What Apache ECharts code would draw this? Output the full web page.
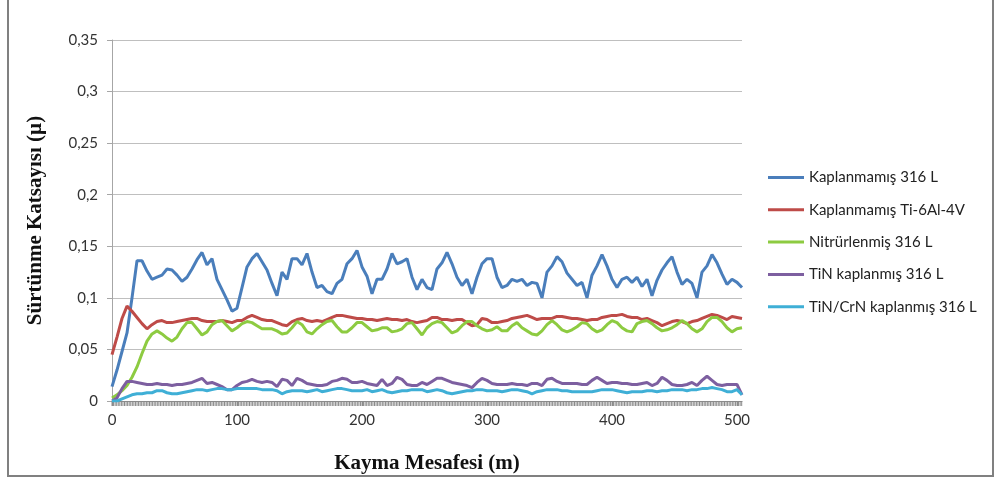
<!DOCTYPE html>
<html>
<head>
<meta charset="utf-8">
<script src="https://cdn.jsdelivr.net/npm/echarts@6/dist/echarts.min.js"></script>
<style>
html,body{margin:0;padding:0;background:#fff;}
#c{width:995px;height:479px;}
</style>
</head>
<body>
<div id="c"></div>
<script>
// Sliding distance (m)
const distance = [
  0,4,8,12,16,20,24,28,32,36,
  40,44,48,52,56,60,64,68,72,76,
  80,84,88,92,96,100,104,108,112,116,
  120,124,128,132,136,140,144,148,152,156,
  160,164,168,172,176,180,184,188,192,196,
  200,204,208,212,216,220,224,228,232,236,
  240,244,248,252,256,260,264,268,272,276,
  280,284,288,292,296,300,304,308,312,316,
  320,324,328,332,336,340,344,348,352,356,
  360,364,368,372,376,380,384,388,392,396,
  400,404,408,412,416,420,424,428,432,436,
  440,444,448,452,456,460,464,468,472,476,
  480,484,488,492,496,500,504
];

const seriesNames = [
  'Kaplanmamış 316 L',
  'Kaplanmamış Ti-6Al-4V',
  'Nitrürlenmiş 316 L',
  'TiN kaplanmış 316 L',
  'TiN/CrN kaplanmış 316 L'
];

const uncoated316L = [
  .014,.030,.048,.066,.100,.136,.136,.126,.118,.120,
  .122,.128,.127,.122,.116,.120,.128,.137,.144,.132,
  .138,.118,.108,.098,.087,.090,.110,.130,.138,.143,
  .135,.127,.114,.102,.125,.118,.138,.138,.132,.143,
  .125,.110,.112,.106,.104,.114,.118,.133,.138,.146,
  .130,.121,.104,.118,.118,.128,.143,.133,.135,.138,
  .120,.108,.118,.110,.108,.128,.134,.144,.133,.120,
  .112,.118,.104,.120,.133,.138,.138,.120,.110,.112,
  .118,.116,.118,.112,.115,.114,.100,.125,.131,.140,
  .135,.124,.118,.112,.115,.100,.122,.131,.142,.131,
  .118,.110,.118,.120,.115,.120,.111,.118,.102,.117,
  .127,.134,.140,.125,.113,.118,.114,.100,.125,.131,
  .142,.134,.123,.113,.118,.115,.110
];

const uncoatedTi6Al4V = [
  .045,.062,.080,.092,.087,.081,.075,.070,.074,.077,
  .078,.076,.076,.077,.078,.079,.080,.080,.078,.077,
  .077,.077,.078,.077,.076,.078,.078,.081,.083,.081,
  .079,.078,.078,.076,.074,.073,.077,.079,.080,.078,
  .077,.078,.077,.079,.081,.083,.083,.082,.081,.080,
  .080,.079,.079,.078,.079,.080,.079,.079,.078,.079,
  .077,.076,.077,.078,.081,.081,.079,.079,.078,.079,
  .079,.076,.073,.074,.080,.079,.076,.076,.077,.078,
  .080,.081,.082,.083,.081,.079,.080,.080,.080,.082,
  .082,.081,.080,.080,.079,.078,.079,.079,.081,.082,
  .083,.083,.084,.082,.081,.081,.079,.080,.078,.076,
  .073,.075,.077,.078,.077,.075,.077,.078,.080,.082,
  .084,.083,.081,.079,.082,.081,.080
];

const nitrided316L = [
  .003,.006,.010,.015,.023,.033,.046,.058,.065,.068,
  .065,.061,.058,.062,.070,.076,.076,.070,.064,.067,
  .074,.077,.078,.073,.068,.071,.075,.077,.076,.073,
  .070,.070,.070,.068,.065,.066,.071,.077,.074,.067,
  .065,.070,.074,.077,.078,.072,.067,.067,.071,.076,
  .076,.072,.068,.069,.071,.071,.067,.068,.070,.075,
  .076,.070,.064,.071,.075,.077,.076,.071,.066,.068,
  .073,.077,.077,.073,.070,.068,.069,.072,.068,.068,
  .073,.076,.071,.068,.065,.064,.068,.074,.078,.074,
  .069,.067,.069,.072,.076,.075,.070,.067,.069,.074,
  .078,.076,.071,.068,.067,.075,.077,.078,.075,.071,
  .068,.069,.071,.074,.078,.075,.070,.067,.070,.077,
  .081,.081,.077,.071,.067,.070,.071
];

const tinCoated316L = [
  .000,.003,.012,.019,.019,.018,.017,.016,.016,.017,
  .016,.016,.015,.016,.016,.017,.018,.020,.022,.017,
  .018,.016,.014,.011,.011,.015,.018,.019,.021,.019,
  .018,.019,.018,.014,.021,.020,.015,.022,.020,.017,
  .016,.015,.015,.016,.019,.020,.022,.021,.018,.018,
  .019,.017,.016,.015,.021,.015,.017,.023,.021,.016,
  .015,.015,.018,.016,.019,.022,.022,.020,.018,.017,
  .016,.015,.013,.018,.022,.020,.017,.016,.016,.016,
  .017,.016,.016,.015,.017,.017,.015,.021,.022,.019,
  .017,.017,.017,.017,.016,.016,.020,.023,.020,.017,
  .018,.018,.017,.017,.016,.016,.017,.018,.015,.017,
  .023,.020,.016,.015,.015,.016,.018,.015,.020,.024,
  .020,.016,.015,.016,.016,.016,.006
];

const tinCrnCoated316L = [
  .000,.000,.002,.004,.006,.007,.007,.008,.008,.010,
  .010,.008,.007,.007,.008,.009,.010,.011,.011,.010,
  .011,.012,.012,.011,.011,.012,.012,.012,.012,.012,
  .011,.011,.011,.010,.007,.009,.010,.010,.010,.009,
  .010,.011,.009,.010,.011,.012,.012,.011,.010,.010,
  .010,.011,.009,.010,.011,.009,.008,.009,.010,.010,
  .011,.011,.011,.009,.010,.011,.010,.008,.007,.008,
  .009,.010,.010,.011,.011,.010,.010,.010,.009,.010,
  .011,.011,.010,.009,.007,.009,.010,.011,.011,.011,
  .010,.010,.009,.009,.009,.009,.009,.010,.011,.011,
  .011,.010,.009,.008,.009,.009,.009,.010,.010,.009,
  .010,.010,.011,.011,.011,.010,.011,.011,.012,.012,
  .013,.012,.011,.009,.009,.011,.006
];

const yTicks = ['0','0,05','0,1','0,15','0,2','0,25','0,3','0,35'];
const xTickLabels = ['0','100','200','300','400','500'];

const colors = ['#4A7EBB','#BE4B48','#8DCB41','#7D5FA0','#3FAFD6'];
const allValues = [uncoated316L, uncoatedTi6Al4V, nitrided316L, tinCoated316L, tinCrnCoated316L];

// sample tick marks of the original category axis (one per recorded sample, 1.25 m apart)
const sampleStep = 1.25;
const sampleTicks = [];
for (let i = 0; i * sampleStep <= 504; i++) sampleTicks.push([i * sampleStep, 0]);

function pairs(vals){ return distance.map((d,i)=>[d, vals[i]]); }

const chart = echarts.init(document.getElementById('c'), null, {renderer:'canvas'});
const font = 'Lato, "Open Sans", sans-serif';
const serif = '"Liberation Serif", "Times New Roman", serif';

const lineSeries = seriesNames.map((name,i)=>({
  name:name, type:'line', data:pairs(allValues[i]),
  showSymbol:false, symbol:'none', smooth:false,
  lineStyle:{color:colors[i], width:3},
  itemStyle:{color:colors[i]},
  emphasis:{disabled:true}, z:3
}));

const tickSeries = {
  type:'custom', name:'ticks', data:sampleTicks, silent:true, clip:false, z:2,
  encode:{x:0, y:1},
  renderItem:function(params, api){
    const p = api.coord([api.value(0), 0]);
    return {type:'line', shape:{x1:p[0], y1:p[1], x2:p[0], y2:p[1]+5},
            style:{stroke:'#8a8a8a', lineWidth:1}};
  }
};

chart.setOption({
  animation:false,
  backgroundColor:'#ffffff',
  grid:{left:112, top:40, width:630, height:362, containLabel:false},
  legend:{
    orient:'vertical',
    left:768, top:170, padding:0,
    icon:'rect', itemWidth:36, itemHeight:3, itemGap:17.3,
    textStyle:{fontFamily:font, fontSize:15, color:'#222'},
    data:seriesNames
  },
  xAxis:{
    type:'value', min:0, max:504, interval:100,
    name:'Kayma Mesafesi (m)', nameLocation:'middle', nameGap:52,
    nameTextStyle:{fontFamily:serif, fontWeight:'bold', fontSize:21, color:'#111'},
    axisLine:{show:true, lineStyle:{color:'#8c8c8c', width:1}},
    axisTick:{show:true, length:5, lineStyle:{color:'#8c8c8c'}},
    splitLine:{show:false},
    axisLabel:{
      margin:12, fontFamily:font, fontSize:15, color:'#333',
      showMaxLabel:false,
      formatter:function(v){ const k = Math.round(v/100); return (v % 100 === 0 && k < xTickLabels.length) ? xTickLabels[k] : ''; }
    }
  },
  yAxis:{
    type:'value', min:0, max:0.35, interval:0.05,
    name:'Sürtünme Katsayısı (µ)', nameLocation:'middle', nameGap:66, nameRotate:90,
    nameTextStyle:{fontFamily:serif, fontWeight:'bold', fontSize:21, color:'#111'},
    axisLine:{show:true, lineStyle:{color:'#a6a6a6'}},
    axisTick:{show:true, length:5, lineStyle:{color:'#a6a6a6'}},
    splitLine:{show:true, lineStyle:{color:'#bfbfbf', width:1}},
    axisLabel:{
      margin:14, fontFamily:font, fontSize:15, color:'#333',
      formatter:function(v){ const k = Math.round(v/0.05); return yTicks[k] !== undefined ? yTicks[k] : ''; }
    }
  },
  graphic:[{
    type:'rect', silent:true, z:-1,
    shape:{x:8, y:-2, width:985, height:478},
    style:{fill:'none', stroke:'#808080', lineWidth:2}
  }],
  series: [tickSeries].concat(lineSeries)
});
</script>
</body>
</html>
